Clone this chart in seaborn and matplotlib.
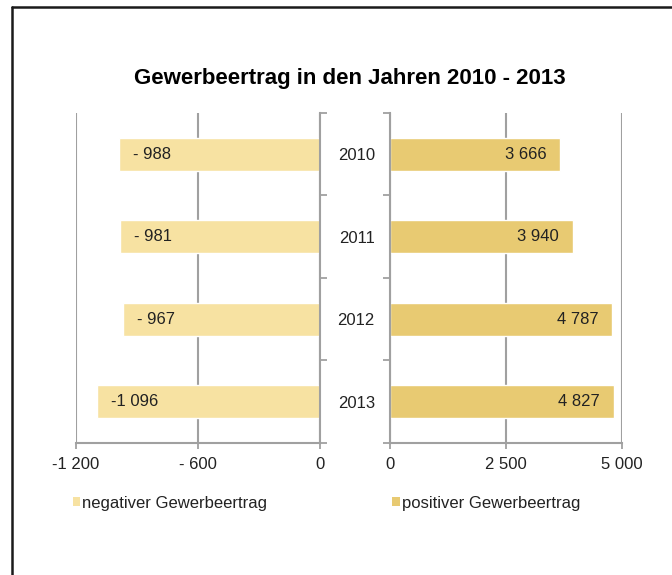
import matplotlib
matplotlib.use('Agg')
import matplotlib.pyplot as plt
import seaborn as sns
import pandas as pd
from matplotlib.patches import Patch
from matplotlib.lines import Line2D

# ── Data ──
years = ['2010', '2011', '2012', '2013']
negativ = [-988, -981, -967, -1096]
positiv = [3666, 3940, 4787, 4827]
neg_ticks = [-1200, -600, 0]
neg_ticklabels = ['-1 200', '- 600', '0']
pos_ticks = [0, 2500, 5000]
pos_ticklabels = ['0', '2 500', '5 000']

title = 'Gewerbeertrag in den Jahren 2010 - 2013'
label_neg = 'negativer Gewerbeertrag'
label_pos = 'positiver Gewerbeertrag'

col_neg = '#F7E2A2'
col_pos = '#E8CA72'
grey = '#A0A0A0'
txt = '#222222'


def fmt(v):
    # Excel style "# ##0" with space as thousands separator
    s = f"{abs(v):,}".replace(',', ' ')
    if v < 0:
        return '-' + (' ' if abs(v) < 1000 else '') + s
    return s


sns.set_style('white')
plt.rcParams['font.family'] = ['Liberation Sans', 'DejaVu Sans']
plt.rcParams['font.size'] = 12

df = pd.DataFrame({'Jahr': years, 'neg': negativ, 'pos': positiv})

fig = plt.figure(figsize=(6.72, 5.75), dpi=100)
ax_l = fig.add_axes([0.1125, 0.2296, 0.3637, 0.5739])
ax_r = fig.add_axes([0.5804, 0.2296, 0.3452, 0.5739])

sns.barplot(data=df, x='neg', y='Jahr', orient='h', color=col_neg,
            width=0.4, ax=ax_l, saturation=1)
sns.barplot(data=df, x='pos', y='Jahr', orient='h', color=col_pos,
            width=0.4, ax=ax_r, saturation=1)

# ── Left panel ──
ax_l.set_xlim(-1200, 0)
ax_l.set_xticks(neg_ticks, labels=neg_ticklabels)
ax_l.yaxis.tick_right()
ax_l.set_yticks([])
ax_l.set_yticks([i - 0.5 for i in range(len(years) + 1)], minor=True)
ax_l.tick_params(axis='y', which='minor', right=True, left=False,
                 direction='out', length=5, width=1.3, color=grey)
for s in ['top', 'left']:
    ax_l.spines[s].set_visible(False)

# ── Right panel ──
ax_r.set_xlim(0, 5000)
ax_r.set_xticks(pos_ticks, labels=pos_ticklabels)
ax_r.set_yticks(range(len(years)), labels=years)
ax_r.set_yticks([i - 0.5 for i in range(len(years) + 1)], minor=True)
ax_r.tick_params(axis='y', which='major', length=0, pad=11, labelcolor=txt,
                 labelsize=12)
ax_r.tick_params(axis='y', which='minor', left=True, direction='out',
                 length=5, width=1.3, color=grey)
for s in ['top', 'right']:
    ax_r.spines[s].set_visible(False)

for ax in (ax_l, ax_r):
    ax.set_xlabel('')
    ax.set_ylabel('')
    ax.set_ylim(len(years) - 0.5, -0.5)
    ax.grid(axis='x', color=grey, linewidth=1.5)
    ax.grid(axis='y', visible=False)
    ax.set_axisbelow(True)
    for s in ['bottom', 'left', 'right']:
        ax.spines[s].set_color(grey)
        ax.spines[s].set_linewidth(1.5)
    ax.tick_params(axis='x', bottom=True, direction='out', length=4,
                   width=1.3, color=grey, pad=6, labelsize=12,
                   labelcolor=txt)

# value labels
for i, v in enumerate(negativ):
    ax_l.annotate(fmt(v), (v, i), xytext=(10, 0), textcoords='offset points',
                  ha='left', va='center', fontsize=12, color=txt)
for i, v in enumerate(positiv):
    ax_r.annotate(fmt(v), (v, i), xytext=(-10, 0), textcoords='offset points',
                  ha='right', va='center', fontsize=12, color=txt)

# title
fig.text(0.521, 0.864, title, ha='center', va='center', fontsize=16,
         fontweight='bold', color='black')

# legends
for ax, lab, col, x0 in [(ax_l, label_neg, col_neg, 0.108),
                         (ax_r, label_pos, col_pos, 0.584)]:
    ax.legend(handles=[Patch(facecolor=col, edgecolor='none', label=lab)],
              loc='center left', bbox_to_anchor=(x0, 0.125),
              bbox_transform=fig.transFigure, frameon=False,
              handlelength=0.45, handleheight=0.45, handletextpad=0.1,
              borderpad=0, borderaxespad=0, fontsize=12,
              labelcolor=txt)

# outer frame (top and left edge only)
y_top = 1 - 7 / 575
x_left = 12 / 672
fig.add_artist(Line2D([x_left, 1], [y_top, y_top], color='#1a1a1a', lw=1.8,
                      transform=fig.transFigure))
fig.add_artist(Line2D([x_left, x_left], [y_top, 0], color='#1a1a1a', lw=1.8,
                      transform=fig.transFigure))

fig.savefig('out.png', dpi=100)
